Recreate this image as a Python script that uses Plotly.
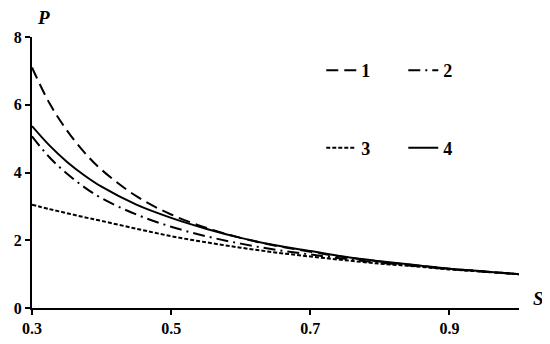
import plotly.graph_objects as go

# S values and P curves
S = [0.30, 0.325, 0.35, 0.375, 0.40, 0.45, 0.50, 0.55, 0.60, 0.65,
     0.70, 0.75, 0.80, 0.85, 0.90, 0.95, 1.00]
P1 = [7.10, 6.05, 5.25, 4.60, 4.08, 3.30, 2.76, 2.37, 2.07, 1.84,
      1.66, 1.50, 1.37, 1.26, 1.16, 1.08, 1.00]
P2 = [5.07, 4.45, 3.97, 3.57, 3.24, 2.76, 2.40, 2.12, 1.90, 1.72,
      1.58, 1.45, 1.34, 1.24, 1.15, 1.07, 1.00]
P3 = [3.05, 2.92, 2.80, 2.68, 2.57, 2.34, 2.12, 1.94, 1.78, 1.64,
      1.52, 1.41, 1.31, 1.23, 1.14, 1.07, 1.00]
P4 = [5.37, 4.80, 4.32, 3.92, 3.58, 3.05, 2.66, 2.34, 2.07, 1.85,
      1.68, 1.51, 1.38, 1.27, 1.16, 1.08, 1.00]

X_TICKS = [0.3, 0.5, 0.7, 0.9]
Y_TICKS = [0, 2, 4, 6, 8]

SERIF = "Liberation Serif"

fig = go.Figure()
series = [
    ("1", P1, "12px,6px", "legend"),
    ("2", P2, "12px,5px,2px,5px", "legend"),
    ("3", P3, "4px,2px", "legend2"),
    ("4", P4, "solid", "legend2"),
]
for name, ys, dash, leg in series:
    fig.add_trace(go.Scatter(
        x=S, y=ys, mode="lines", name=name, legend=leg,
        line=dict(color="black", width=2, dash=dash, shape="spline"),
    ))

axis_common = dict(
    showgrid=False, zeroline=False, showline=True, linecolor="black", linewidth=2,
    ticks="outside", tickcolor="black", tickwidth=2, ticklen=5, automargin=False,
    tickfont=dict(family=SERIF, size=16, color="black", weight="bold"),
)
legend_common = dict(
    orientation="h", entrywidth=37, bgcolor="rgba(0,0,0,0)",
    font=dict(family=SERIF, size=18, color="black", weight="bold"),
    xanchor="left", yanchor="middle", itemwidth=30,
)

# page body has an 8px margin, so the figure is 8px smaller each way
fig.update_layout(
    width=542, height=336,
    margin=dict(l=24, r=31, t=29, b=36),
    plot_bgcolor="white", paper_bgcolor="white",
    xaxis=dict(range=[0.3, 1.0], tickvals=X_TICKS, ticktext=["0.3", "0.5", "0.7", "0.9"],
               **axis_common),
    yaxis=dict(range=[0, 8], tickvals=Y_TICKS, **axis_common),
    legend=dict(x=0.594, y=0.876, **legend_common),
    legend2=dict(x=0.594, y=0.59, **legend_common),
    annotations=[
        dict(text="<b><i>P</i></b>", xref="paper", yref="paper", x=0.006, y=1.118,
             showarrow=False, font=dict(family=SERIF, size=19, color="black")),
        dict(text="<b><i>S</i></b>", xref="paper", yref="paper", x=1.056, y=-0.01,
             showarrow=False, font=dict(family=SERIF, size=19, color="black")),
    ],
)

fig.write_html("out.html")
